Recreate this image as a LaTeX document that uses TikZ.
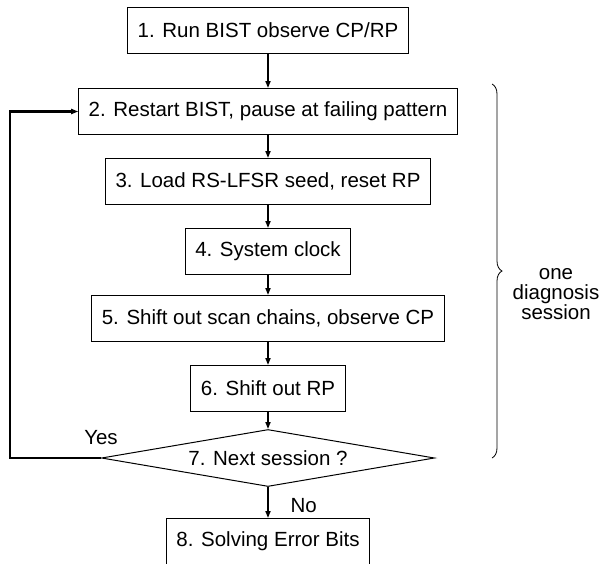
\documentclass[tikz,border=0pt]{standalone}
\usepackage{fontspec}
\setmainfont{Liberation Sans}
\usetikzlibrary{shapes.geometric,arrows.meta,decorations.pathreplacing}
\begin{document}
\begin{tikzpicture}[x=1pt,y=1pt,
  txt/.style={font=\fontsize{20.5}{20.5}\selectfont},
  stepbox/.style={txt, draw, line width=1pt, inner xsep=10pt, inner ysep=0pt, minimum height=46pt, anchor=north},
  decision/.style={txt, draw, shape=diamond, aspect=5.9, minimum width=333pt, minimum height=57pt, inner sep=0pt, line width=1pt},
  flow/.style={-{Triangle[length=7pt,width=5pt]}, line width=1.6pt},
  loopline/.style={-{Triangle[length=7pt,width=5pt]}, line width=2.2pt},
  ]
\useasboundingbox (0,0) rectangle (600,-563);
\node[stepbox] (s1) at (268,-7) {1. Run BIST observe CP/RP};
\node[stepbox] (s2) at (268,-88) {2. Restart BIST, pause at failing pattern};
\node[stepbox] (s3) at (268,-158) {3. Load RS-LFSR seed, reset RP};
\node[stepbox] (s4) at (268,-228) {4. System clock};
\node[stepbox] (s5) at (268,-295) {5. Shift out scan chains, observe CP};
\node[stepbox] (s6) at (268,-365) {6. Shift out RP};
\node[decision] (s7) at (268,-458) {7. Next session ?};
\node[stepbox] (s8) at (268,-518) {8. Solving Error Bits};
\draw[flow] (s1.south) -- (s2.north);
\draw[flow] (s2.south) -- (s3.north);
\draw[flow] (s3.south) -- (s4.north);
\draw[flow] (s4.south) -- (s5.north);
\draw[flow] (s5.south) -- (s6.north);
\draw[flow] (s6.south) -- (s7.north);
\draw[flow] (s7.south) -- (s8.north);
\coordinate (c1) at (10,-458);
\draw[loopline] (s7.west) -- (c1) |- (s2.west);
\node[txt] (yes) at (101,-438) {Yes};
\node[txt, anchor=west] (no) at (287,-506) {No};
\coordinate (bt) at (492,-84);
\coordinate (bb) at (492,-458);
\draw[decorate, decoration={brace, amplitude=10pt}, line width=0.8pt] (bt) -- (bb);
\node[txt, align=center, font=\fontsize{20.5}{20}\selectfont] (lbl) at (556,-294) {one\\diagnosis\\session};
\end{tikzpicture}
\end{document}
